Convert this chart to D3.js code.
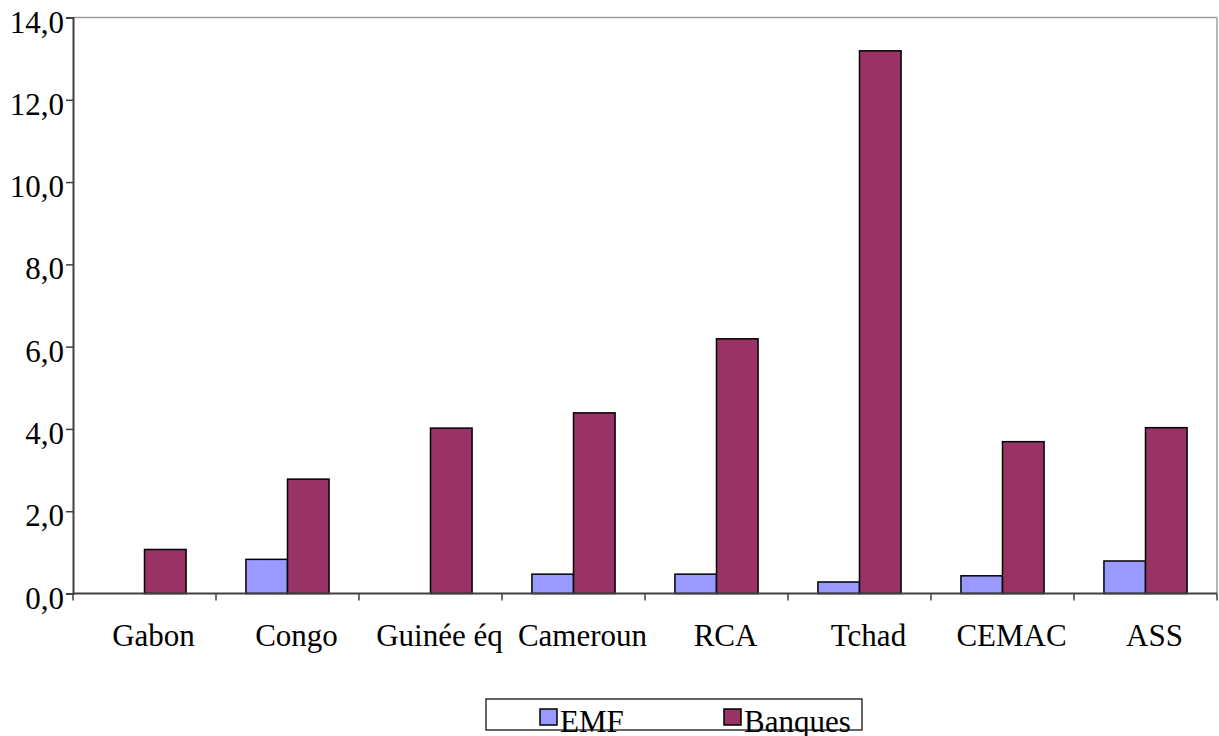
<!DOCTYPE html>
<html>
<head>
<meta charset="utf-8">
<script src="https://cdn.jsdelivr.net/npm/d3@7"></script>
<style>
  html, body { margin: 0; padding: 0; background: #fff; }
  svg { display: block; }
  text { font-family: "Liberation Serif", "Times New Roman", serif; fill: #000; }
</style>
</head>
<body>
<svg id="chart" width="1219" height="736"></svg>
<script>
const categories = ["Gabon", "Congo", "Guinée éq", "Cameroun", "RCA", "Tchad", "CEMAC", "ASS"];
const seriesNames = ["EMF", "Banques"];
const emf = [null, 0.83, null, 0.47, 0.47, 0.28, 0.43, 0.79];
const banques = [1.07, 2.78, 4.02, 4.39, 6.19, 13.19, 3.69, 4.03];
const yTicks = [0, 2, 4, 6, 8, 10, 12, 14];
const colors = ["#9999FF", "#993366"];

const svg = d3.select("#chart");
const mLeft = 73, mRight = 1217, mTop = 17.5, mBottom = 593.5;
const fontSize = "31px";

const x0 = d3.scaleBand().domain(categories).range([mLeft, mRight]).padding(0);
const x1 = d3.scaleBand().domain(seriesNames).range([0, x0.bandwidth()]).paddingInner(0).paddingOuter(0.72);
const y = d3.scaleLinear().domain([0, 14]).range([mBottom, mTop]);

// frame: top and right gray borders
svg.append("line").attr("x1", mLeft).attr("x2", mRight).attr("y1", mTop).attr("y2", mTop)
  .attr("stroke", "#a0a0a0").attr("stroke-width", 1.5);
svg.append("line").attr("x1", mRight).attr("x2", mRight).attr("y1", mTop).attr("y2", mBottom)
  .attr("stroke", "#a0a0a0").attr("stroke-width", 1.5);

const data = categories.map((c, i) => ({ cat: c, vals: [emf[i], banques[i]] }));

const g = svg.append("g");
data.forEach(d => {
  d.vals.forEach((v, j) => {
    if (v == null) return;
    g.append("rect")
      .attr("x", x0(d.cat) + x1(seriesNames[j]))
      .attr("y", y(v))
      .attr("width", x1.bandwidth())
      .attr("height", y(0) - y(v))
      .attr("fill", colors[j])
      .attr("stroke", "#000")
      .attr("stroke-width", 1.5);
  });
});

// Y axis
const yAxis = d3.axisLeft(y).tickValues(yTicks).tickSize(7)
  .tickFormat(d => d3.format(".1f")(d).replace(".", ","));
const ya = svg.append("g").attr("transform", `translate(${mLeft},0)`).call(yAxis);
ya.attr("font-family", "Liberation Serif").attr("font-size", fontSize);
ya.select(".domain").attr("stroke", "#404040").attr("stroke-width", 2);
ya.selectAll(".tick line").attr("stroke", "#404040").attr("stroke-width", 1.5);
ya.selectAll(".tick text").attr("x", -9).attr("dy", "0.47em");

// X axis
const xTickScale = d3.scaleLinear().domain([0, categories.length]).range([mLeft, mRight]);
const xa = svg.append("g");
xa.append("line").attr("x1", mLeft).attr("x2", mRight).attr("y1", mBottom).attr("y2", mBottom)
  .attr("stroke", "#404040").attr("stroke-width", 2);
d3.range(categories.length + 1).forEach(i => {
  xa.append("line").attr("x1", xTickScale(i)).attr("x2", xTickScale(i))
    .attr("y1", mBottom).attr("y2", mBottom + 7)
    .attr("stroke", "#404040").attr("stroke-width", 1.5);
});
xa.selectAll("text.cat").data(categories).enter().append("text")
  .attr("class", "cat")
  .attr("x", d => x0(d) + x0.bandwidth() / 2 + 9)
  .attr("y", 646)
  .attr("text-anchor", "middle")
  .attr("font-size", fontSize)
  .text(d => d);

// Legend
const lg = svg.append("g");
lg.append("rect").attr("x", 486).attr("y", 699).attr("width", 376).attr("height", 31)
  .attr("fill", "#fff").attr("stroke", "#000").attr("stroke-width", 1.2);
const legendX = d3.scalePoint().domain(seriesNames).range([540, 724]);
seriesNames.forEach((s, j) => {
  lg.append("rect").attr("x", legendX(s)).attr("y", 709).attr("width", 17).attr("height", 16)
    .attr("fill", colors[j]).attr("stroke", "#000").attr("stroke-width", 1.5);
  lg.append("text").attr("x", legendX(s) + 20).attr("y", 732)
    .attr("font-size", fontSize).text(s);
});
</script>
</body>
</html>
